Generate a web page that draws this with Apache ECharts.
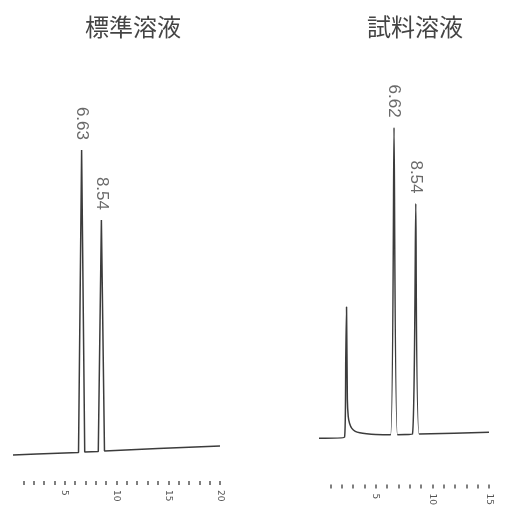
<!DOCTYPE html>
<html>
<head>
<meta charset="utf-8">
<script src="https://cdn.jsdelivr.net/npm/echarts@6/dist/echarts.min.js"></script>
<style>
html,body{margin:0;padding:0;background:#fff;}
#chart{width:527px;height:508px;}
</style>
</head>
<body>
<div id="chart"></div>
<script>
// ---- titles ----
const panelTitles = ['標準溶液', '試料溶液'];

// ---- standard solution chromatogram (time in min, detector signal) ----
const stdTime   = [0, 2.3, 6.33, 6.63, 6.93, 8.24, 8.54, 8.84, 14, 20];
const stdSignal = [-3, -2, -0.5, 302, 0, 0.5, 232, 1, 3.5, 6];
const stdPeakTimes  = [6.63, 8.54];
const stdPeakHeights = [302, 232];
const stdPeakLabels = ['6.63', '8.54'];
const stdTicks  = [1, 2, 3, 4, 5, 6, 7, 8, 9, 10, 11, 12, 13, 14, 15, 16, 17, 18, 19, 20];
const stdTickLabels = [5, 10, 15, 20];

// ---- sample solution chromatogram ----
const smpTime   = [0, 2.25, 2.36, 2.43, 2.5, 2.58, 2.7, 2.9, 3.2, 3.6, 4.2, 5.0, 6.32, 6.62, 6.92, 8.24, 8.54, 8.84, 15];
const smpSignal = [0, 1, 80, 133, 40, 22, 15, 10, 7, 5.5, 4.5, 3.8, 3.5, 315, 3.6, 4, 238, 4.2, 6];
const smpPeakTimes  = [6.62, 8.54];
const smpPeakHeights = [315, 238];
const smpPeakLabels = ['6.62', '8.54'];
const smpTicks  = [1, 2, 3, 4, 5, 6, 7, 8, 9, 10, 11, 12, 13, 14, 15];
const smpTickLabels = [5, 10, 15];

const ink = '#3c3c3c';

function xAxisFor(idx, max, ticks, labels) {
  return {
    type: 'value', gridIndex: idx, min: 0, max: max,
    axisLine: {show: false, onZero: false},
    splitLine: {show: false},
    axisTick: {show: true, length: 4, customValues: ticks, lineStyle: {color: '#555', width: 1.5}},
    axisLabel: {show: true, customValues: labels, rotate: -90, fontSize: 9, margin: 9,
                color: '#555', fontFamily: 'DejaVu Sans'}
  };
}

function pairs(xs, ys) { return xs.map((x, i) => [x, ys[i]]); }

const labelSeries = (idx, times, heights, texts) => ({
  type: 'scatter', xAxisIndex: idx, yAxisIndex: idx, symbolSize: 0,
  data: pairs(times, heights).map((p, i) => ({value: p, name: texts[i]})),
  label: {show: true, position: 'top', distance: 10, rotate: -90, align: 'right',
          verticalAlign: 'middle', formatter: p => p.name, fontSize: 17,
          color: '#444', fontFamily: 'Liberation Sans'},
  silent: true
});

const chart = echarts.init(document.getElementById('chart'), null, {renderer: 'canvas'});
chart.setOption({
  backgroundColor: '#fff',
  animation: false,
  title: [
    {text: panelTitles[0], left: 128, top: 10, textAlign: 'center',
     textStyle: {fontSize: 24, fontWeight: 'normal', color: '#444', fontFamily: 'Noto Sans CJK JP'}},
    {text: panelTitles[1], left: 410, top: 10, textAlign: 'center',
     textStyle: {fontSize: 24, fontWeight: 'normal', color: '#444', fontFamily: 'Noto Sans CJK JP'}}
  ],
  grid: [
    {left: 13, right: 307, top: 140, bottom: 27},
    {left: 319, right: 38, top: 100, bottom: 18}
  ],
  xAxis: [
    xAxisFor(0, 20, stdTicks, stdTickLabels),
    xAxisFor(1, 15, smpTicks, smpTickLabels)
  ],
  yAxis: [
    {type: 'value', gridIndex: 0, min: -29, max: 312, show: false},
    {type: 'value', gridIndex: 1, min: -47, max: 343, show: false}
  ],
  series: [
    {type: 'line', xAxisIndex: 0, yAxisIndex: 0, data: pairs(stdTime, stdSignal),
     showSymbol: false, lineStyle: {color: ink, width: 1.5}},
    {type: 'line', xAxisIndex: 1, yAxisIndex: 1, data: pairs(smpTime, smpSignal),
     showSymbol: false, smooth: 0.15, lineStyle: {color: ink, width: 1.5}},
    labelSeries(0, stdPeakTimes, stdPeakHeights, stdPeakLabels),
    labelSeries(1, smpPeakTimes, smpPeakHeights, smpPeakLabels)
  ]
});
</script>
</body>
</html>
